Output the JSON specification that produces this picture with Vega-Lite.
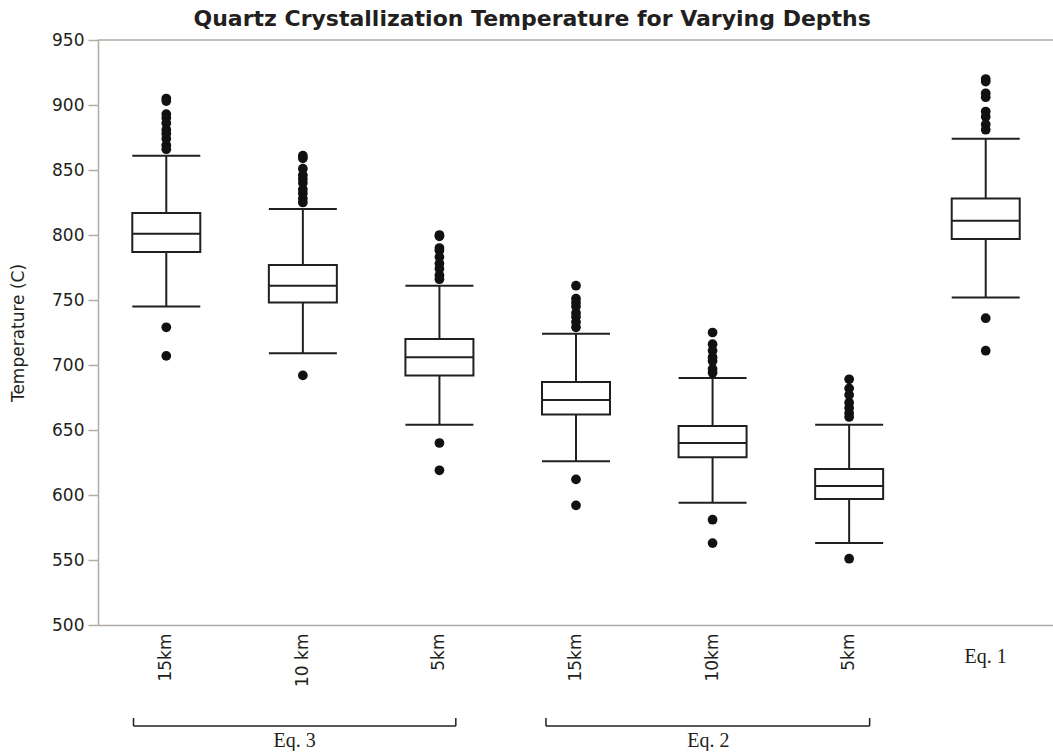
{
  "$schema": "https://vega.github.io/schema/vega-lite/v6.json",
  "background": "white",
  "padding": {"left": 9, "top": 8, "right": 0, "bottom": 0},
  "title": {
    "text": "Quartz Crystallization Temperature for Varying Depths",
    "font": "DejaVu Sans",
    "fontSize": 22,
    "fontWeight": "bold",
    "color": "#231f20",
    "anchor": "middle",
    "offset": 0
  },
  "config": {"view": {"stroke": null}},
  "spacing": 10,
  "datasets": {
    "boxes": [
      {"cat": "Eq. 3 15km", "lower": 745, "q1": 787, "median": 801, "q3": 817, "upper": 861},
      {"cat": "Eq. 3 10 km", "lower": 709, "q1": 748, "median": 761, "q3": 777, "upper": 820},
      {"cat": "Eq. 3 5km", "lower": 654, "q1": 692, "median": 706, "q3": 720, "upper": 761},
      {"cat": "Eq. 2 15km", "lower": 626, "q1": 662, "median": 673, "q3": 687, "upper": 724},
      {"cat": "Eq. 2 10km", "lower": 594, "q1": 629, "median": 640, "q3": 653, "upper": 690},
      {"cat": "Eq. 2 5km", "lower": 563, "q1": 597, "median": 607, "q3": 620, "upper": 654},
      {"cat": "Eq. 1", "lower": 752, "q1": 797, "median": 811, "q3": 828, "upper": 874}
    ],
    "outliers": [
      {"cat": "Eq. 3 15km", "value": 729}, {"cat": "Eq. 3 15km", "value": 707},
      {"cat": "Eq. 3 15km", "value": 905}, {"cat": "Eq. 3 15km", "value": 903},
      {"cat": "Eq. 3 15km", "value": 893}, {"cat": "Eq. 3 15km", "value": 890},
      {"cat": "Eq. 3 15km", "value": 886}, {"cat": "Eq. 3 15km", "value": 881},
      {"cat": "Eq. 3 15km", "value": 878}, {"cat": "Eq. 3 15km", "value": 874},
      {"cat": "Eq. 3 15km", "value": 869}, {"cat": "Eq. 3 15km", "value": 866},
      {"cat": "Eq. 3 10 km", "value": 692},
      {"cat": "Eq. 3 10 km", "value": 861}, {"cat": "Eq. 3 10 km", "value": 859},
      {"cat": "Eq. 3 10 km", "value": 851}, {"cat": "Eq. 3 10 km", "value": 846},
      {"cat": "Eq. 3 10 km", "value": 843}, {"cat": "Eq. 3 10 km", "value": 840},
      {"cat": "Eq. 3 10 km", "value": 835}, {"cat": "Eq. 3 10 km", "value": 832},
      {"cat": "Eq. 3 10 km", "value": 828}, {"cat": "Eq. 3 10 km", "value": 825},
      {"cat": "Eq. 3 5km", "value": 640}, {"cat": "Eq. 3 5km", "value": 619},
      {"cat": "Eq. 3 5km", "value": 800}, {"cat": "Eq. 3 5km", "value": 799},
      {"cat": "Eq. 3 5km", "value": 790}, {"cat": "Eq. 3 5km", "value": 788},
      {"cat": "Eq. 3 5km", "value": 783}, {"cat": "Eq. 3 5km", "value": 778},
      {"cat": "Eq. 3 5km", "value": 774}, {"cat": "Eq. 3 5km", "value": 769},
      {"cat": "Eq. 3 5km", "value": 766},
      {"cat": "Eq. 2 15km", "value": 612}, {"cat": "Eq. 2 15km", "value": 592},
      {"cat": "Eq. 2 15km", "value": 761}, {"cat": "Eq. 2 15km", "value": 751},
      {"cat": "Eq. 2 15km", "value": 748}, {"cat": "Eq. 2 15km", "value": 745},
      {"cat": "Eq. 2 15km", "value": 740}, {"cat": "Eq. 2 15km", "value": 737},
      {"cat": "Eq. 2 15km", "value": 733}, {"cat": "Eq. 2 15km", "value": 729},
      {"cat": "Eq. 2 10km", "value": 581}, {"cat": "Eq. 2 10km", "value": 563},
      {"cat": "Eq. 2 10km", "value": 725}, {"cat": "Eq. 2 10km", "value": 716},
      {"cat": "Eq. 2 10km", "value": 711}, {"cat": "Eq. 2 10km", "value": 706},
      {"cat": "Eq. 2 10km", "value": 703}, {"cat": "Eq. 2 10km", "value": 697},
      {"cat": "Eq. 2 10km", "value": 694},
      {"cat": "Eq. 2 5km", "value": 551},
      {"cat": "Eq. 2 5km", "value": 689}, {"cat": "Eq. 2 5km", "value": 682},
      {"cat": "Eq. 2 5km", "value": 677}, {"cat": "Eq. 2 5km", "value": 671},
      {"cat": "Eq. 2 5km", "value": 667}, {"cat": "Eq. 2 5km", "value": 663},
      {"cat": "Eq. 2 5km", "value": 660},
      {"cat": "Eq. 1", "value": 736}, {"cat": "Eq. 1", "value": 711},
      {"cat": "Eq. 1", "value": 920}, {"cat": "Eq. 1", "value": 918},
      {"cat": "Eq. 1", "value": 909}, {"cat": "Eq. 1", "value": 906},
      {"cat": "Eq. 1", "value": 895}, {"cat": "Eq. 1", "value": 891},
      {"cat": "Eq. 1", "value": 885}, {"cat": "Eq. 1", "value": 881}
    ],
    "brackets": [
      {"group": "Eq. 3", "start": 0.26, "end": 2.62, "mid": 1.44},
      {"group": "Eq. 2", "start": 3.28, "end": 5.65, "mid": 4.47}
    ]
  },
  "vconcat": [
    {
      "width": 956,
      "height": 585,
      "encoding": {
        "x": {
          "field": "cat",
          "type": "nominal",
          "sort": ["Eq. 3 15km", "Eq. 3 10 km", "Eq. 3 5km", "Eq. 2 15km", "Eq. 2 10km", "Eq. 2 5km", "Eq. 1"],
          "scale": {"paddingInner": 0, "paddingOuter": 0},
          "title": null,
          "axis": {
            "domainColor": "#b3aba5",
            "domainWidth": 1.5,
            "ticks": false,
            "labelAngle": {"expr": "datum.value == 'Eq. 1' ? 0 : 270"},
            "labelAlign": {"expr": "datum.value == 'Eq. 1' ? 'center' : 'right'"},
            "labelBaseline": {"expr": "datum.value == 'Eq. 1' ? 'top' : 'middle'"},
            "labelFont": {"expr": "datum.value == 'Eq. 1' ? 'Liberation Serif' : 'DejaVu Sans'"},
            "labelFontSize": {"expr": "datum.value == 'Eq. 1' ? 20 : 17"},
            "labelPadding": {"expr": "datum.value == 'Eq. 1' ? 21 : 8"},
            "labelColor": "#231f20",
            "labelExpr": "indexof(datum.value, 'Eq. 3 ') == 0 || indexof(datum.value, 'Eq. 2 ') == 0 ? substring(datum.value, 6) : datum.value"
          }
        }
      },
      "layer": [
        {
          "data": {"values": [{}]},
          "mark": {"type": "rule", "color": "#b3aba5", "strokeWidth": 1.5},
          "encoding": {"x": null, "y": {"datum": 950, "type": "quantitative"}}
        },
        {
          "data": {"name": "boxes"},
          "mark": {"type": "rule", "color": "#231f20", "strokeWidth": 2},
          "encoding": {
            "y": {
              "field": "lower",
              "type": "quantitative",
              "scale": {"domain": [500, 950], "nice": false, "zero": false},
              "axis": {
                "title": "Temperature (C)",
                "values": [500, 550, 600, 650, 700, 750, 800, 850, 900, 950],
                "grid": false,
                "domainColor": "#b3aba5",
                "domainWidth": 1.5,
                "tickColor": "#b3aba5",
                "tickWidth": 1.5,
                "tickSize": 10,
                "labelFont": "DejaVu Sans",
                "labelFontSize": 17,
                "labelColor": "#231f20",
                "labelPadding": 4,
                "titleFont": "DejaVu Sans",
                "titleFontSize": 17,
                "titleFontWeight": "normal",
                "titleColor": "#231f20",
                "titlePadding": 24
              }
            },
            "y2": {"field": "upper"}
          }
        },
        {
          "data": {"name": "boxes"},
          "mark": {"type": "bar", "size": 68, "fill": "white", "stroke": "#231f20", "strokeWidth": 2},
          "encoding": {
            "y": {"field": "q1", "type": "quantitative"},
            "y2": {"field": "q3"}
          }
        },
        {
          "data": {"name": "boxes"},
          "mark": {"type": "tick", "size": 68, "thickness": 2, "color": "#231f20", "opacity": 1},
          "encoding": {"y": {"field": "median", "type": "quantitative"}}
        },
        {
          "data": {"name": "boxes"},
          "mark": {"type": "tick", "size": 68, "thickness": 2, "color": "#231f20", "opacity": 1},
          "encoding": {"y": {"field": "lower", "type": "quantitative"}}
        },
        {
          "data": {"name": "boxes"},
          "mark": {"type": "tick", "size": 68, "thickness": 2, "color": "#231f20", "opacity": 1},
          "encoding": {"y": {"field": "upper", "type": "quantitative"}}
        },
        {
          "data": {"name": "outliers"},
          "mark": {"type": "circle", "size": 95, "color": "#111111", "opacity": 1},
          "encoding": {"y": {"field": "value", "type": "quantitative"}}
        }
      ]
    },
    {
      "width": 956,
      "height": 50,
      "data": {"name": "brackets"},
      "layer": [
        {
          "mark": {"type": "rule", "color": "#231f20", "strokeWidth": 1.5},
          "encoding": {
            "x": {"field": "start", "type": "quantitative", "scale": {"domain": [0, 7], "nice": false, "zero": false}, "axis": null},
            "x2": {"field": "end"},
            "y": {"datum": 4.2, "type": "quantitative", "scale": {"domain": [0, 10], "nice": false}, "axis": null}
          }
        },
        {
          "mark": {"type": "rule", "color": "#231f20", "strokeWidth": 1.5},
          "encoding": {
            "x": {"field": "start", "type": "quantitative"},
            "y": {"datum": 4.2, "type": "quantitative"},
            "y2": {"datum": 5.8}
          }
        },
        {
          "mark": {"type": "rule", "color": "#231f20", "strokeWidth": 1.5},
          "encoding": {
            "x": {"field": "end", "type": "quantitative"},
            "y": {"datum": 4.2, "type": "quantitative"},
            "y2": {"datum": 5.8}
          }
        },
        {
          "mark": {"type": "text", "font": "Liberation Serif", "fontSize": 20, "color": "#231f20", "baseline": "middle", "align": "center"},
          "encoding": {
            "x": {"field": "mid", "type": "quantitative"},
            "y": {"datum": 1.2, "type": "quantitative"},
            "text": {"field": "group"}
          }
        }
      ]
    }
  ]
}
